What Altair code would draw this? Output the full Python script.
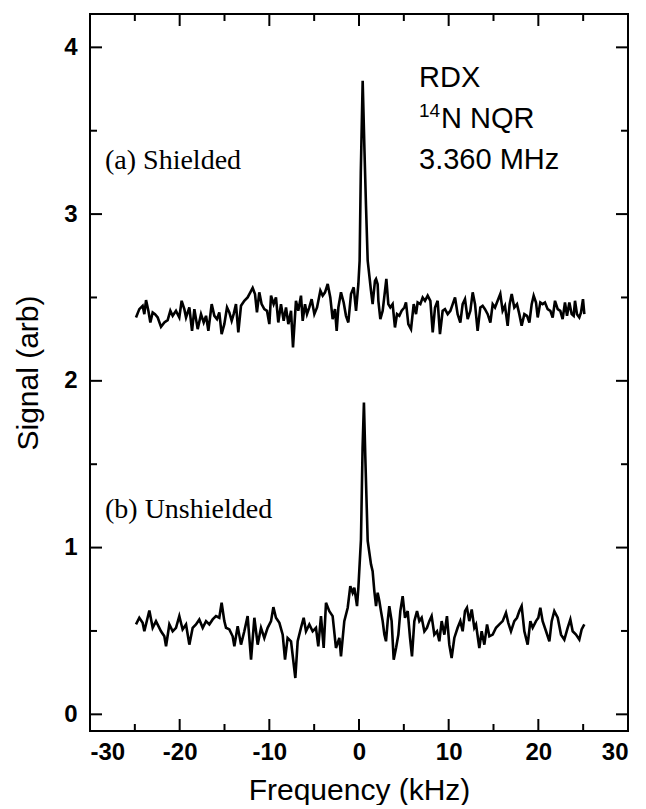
import altair as alt
import pandas as pd

# ---------------- data ----------------
upper_freq = [-24.87, -24.50, -24.13, -23.94, -23.75, -23.49, -23.27, -23.01, -22.75, -22.45,
              -22.08, -21.71, -21.34, -21.04, -20.78, -20.41, -20.04, -19.78, -19.48, -19.29,
              -18.92, -18.62, -18.36, -17.99, -17.62, -17.32, -17.06, -16.80, -16.43, -16.13,
              -15.84, -15.58, -15.32, -15.02, -14.72, -14.46, -14.20, -13.98, -13.72, -13.46,
              -13.16, -12.79, -12.42, -12.12, -11.86, -11.60, -11.38, -11.12, -10.86, -10.56,
              -10.26, -10.00, -9.81, -9.52, -9.26, -9.00, -8.70, -8.40, -8.14, -7.88,
              -7.58, -7.36, -7.03, -6.77, -6.47, -6.28, -6.02, -5.80, -5.54, -5.28,
              -4.98, -4.68, -4.31, -4.05, -3.79, -3.49, -3.20, -2.94, -2.68, -2.49,
              -2.30, -2.01, -1.71, -1.45, -1.19, -0.89, -0.59, -0.33, -0.07, 0.07,
              0.20, 0.41, 0.60, 0.78, 0.97, 1.34, 1.52, 1.78, 1.90, 2.08,
              2.16, 2.38, 2.64, 2.90, 3.05, 3.27, 3.49, 3.75, 4.01, 4.24,
              4.50, 4.76, 5.06, 5.24, 5.50, 5.80, 6.10, 6.36, 6.54, 6.84,
              7.10, 7.36, 7.66, 7.96, 8.22, 8.48, 8.77, 9.03, 9.33, 9.59,
              9.89, 10.19, 10.45, 10.71, 11.00, 11.30, 11.56, 11.82, 12.12, 12.42,
              12.68, 12.94, 13.23, 13.53, 13.79, 14.05, 14.35, 14.65, 14.91, 15.17,
              15.46, 15.76, 16.02, 16.28, 16.58, 16.80, 17.03, 17.32, 17.62, 17.88,
              18.14, 18.44, 18.74, 19.00, 19.26, 19.48, 19.74, 19.93, 20.22, 20.48,
              20.74, 21.04, 21.34, 21.60, 21.86, 22.16, 22.45, 22.71, 22.97, 23.20,
              23.46, 23.72, 23.94, 24.09, 24.31, 24.57, 24.76, 24.98, 25.13]
upper_signal = [2.380, 2.430, 2.450, 2.400, 2.484, 2.420, 2.350, 2.410, 2.400, 2.380,
                2.324, 2.350, 2.364, 2.420, 2.390, 2.420, 2.380, 2.480, 2.430, 2.380,
                2.440, 2.300, 2.430, 2.310, 2.400, 2.350, 2.390, 2.300, 2.460, 2.390,
                2.370, 2.410, 2.280, 2.340, 2.440, 2.410, 2.360, 2.400, 2.460, 2.290,
                2.450, 2.480, 2.500, 2.531, 2.557, 2.521, 2.410, 2.531, 2.460, 2.430,
                2.420, 2.340, 2.511, 2.460, 2.500, 2.350, 2.460, 2.360, 2.440, 2.340,
                2.420, 2.200, 2.480, 2.420, 2.511, 2.360, 2.460, 2.400, 2.440, 2.490,
                2.400, 2.440, 2.541, 2.511, 2.531, 2.581, 2.500, 2.370, 2.430, 2.300,
                2.440, 2.531, 2.470, 2.390, 2.350, 2.521, 2.561, 2.420, 2.581, 2.720,
                3.250, 3.800, 3.400, 3.050, 2.720, 2.540, 2.460, 2.600, 2.611, 2.580,
                2.480, 2.370, 2.420, 2.541, 2.611, 2.460, 2.440, 2.460, 2.320, 2.400,
                2.390, 2.420, 2.440, 2.470, 2.340, 2.310, 2.460, 2.400, 2.470, 2.460,
                2.500, 2.480, 2.511, 2.480, 2.290, 2.440, 2.480, 2.280, 2.420, 2.430,
                2.400, 2.420, 2.460, 2.500, 2.400, 2.350, 2.460, 2.490, 2.370, 2.420,
                2.531, 2.460, 2.300, 2.440, 2.450, 2.430, 2.400, 2.350, 2.460, 2.440,
                2.480, 2.521, 2.420, 2.450, 2.330, 2.460, 2.521, 2.440, 2.460, 2.400,
                2.330, 2.400, 2.390, 2.350, 2.460, 2.511, 2.470, 2.380, 2.470, 2.460,
                2.470, 2.430, 2.420, 2.380, 2.480, 2.430, 2.420, 2.370, 2.470, 2.390,
                2.470, 2.400, 2.390, 2.480, 2.400, 2.380, 2.410, 2.490, 2.400]

lower_freq = [-24.87, -24.50, -24.13, -23.94, -23.38, -23.01, -22.64, -22.08, -21.71, -21.52,
              -21.15, -20.78, -20.41, -20.04, -19.67, -19.29, -18.92, -18.55, -18.18, -17.81,
              -17.43, -17.06, -16.69, -16.32, -15.95, -15.58, -15.32, -15.02, -14.83, -14.46,
              -14.09, -13.90, -13.53, -13.16, -12.79, -12.42, -12.04, -11.67, -11.30, -10.93,
              -10.56, -10.19, -9.81, -9.55, -9.26, -8.88, -8.51, -8.25, -7.96, -7.58,
              -7.10, -6.84, -6.47, -6.17, -5.91, -5.54, -5.17, -4.80, -4.54, -4.24,
              -3.94, -3.68, -3.31, -2.94, -2.57, -2.19, -2.01, -1.64, -1.26, -0.97,
              -0.71, -0.52, -0.22, -0.07, 0.22, 0.40, 0.55, 0.70, 0.97, 1.34,
              1.52, 1.71, 1.90, 2.08, 2.27, 2.45, 2.64, 2.83, 3.01, 3.20,
              3.38, 3.64, 3.87, 4.13, 4.39, 4.61, 4.87, 5.13, 5.43, 5.69,
              5.91, 6.17, 6.47, 6.73, 6.99, 7.29, 7.58, 7.84, 8.10, 8.40,
              8.70, 8.96, 9.22, 9.52, 9.81, 10.07, 10.33, 10.63, 11.00, 11.30,
              11.56, 11.82, 12.04, 12.30, 12.57, 12.86, 13.05, 13.42, 13.68, 13.98,
              14.28, 14.54, 14.91, 15.28, 15.65, 16.02, 16.39, 16.65, 16.95, 17.32,
              17.62, 17.88, 18.14, 18.44, 18.81, 19.11, 19.37, 19.74, 20.00, 20.22,
              20.48, 20.86, 21.23, 21.49, 21.78, 22.16, 22.53, 22.90, 23.27, 23.57,
              23.83, 24.20, 24.57, 24.83, 25.13]
lower_signal = [0.539, 0.579, 0.549, 0.498, 0.623, 0.519, 0.559, 0.498, 0.468, 0.408,
                0.539, 0.498, 0.519, 0.589, 0.509, 0.539, 0.418, 0.519, 0.539, 0.569,
                0.519, 0.559, 0.539, 0.569, 0.589, 0.579, 0.669, 0.559, 0.519, 0.509,
                0.468, 0.408, 0.529, 0.418, 0.498, 0.589, 0.328, 0.579, 0.418, 0.519,
                0.458, 0.519, 0.559, 0.643, 0.579, 0.549, 0.478, 0.328, 0.458, 0.438,
                0.218, 0.438, 0.519, 0.579, 0.498, 0.539, 0.498, 0.519, 0.408, 0.589,
                0.398, 0.669, 0.619, 0.589, 0.398, 0.458, 0.348, 0.559, 0.639, 0.769,
                0.729, 0.759, 0.649, 0.759, 1.050, 1.600, 1.870, 1.550, 1.040, 0.899,
                0.859, 0.739, 0.649, 0.729, 0.679, 0.619, 0.559, 0.478, 0.438, 0.559,
                0.649, 0.559, 0.328, 0.398, 0.478, 0.619, 0.709, 0.579, 0.619, 0.458,
                0.348, 0.559, 0.619, 0.559, 0.579, 0.498, 0.519, 0.559, 0.589, 0.478,
                0.498, 0.438, 0.559, 0.478, 0.589, 0.418, 0.338, 0.458, 0.519, 0.559,
                0.498, 0.619, 0.639, 0.559, 0.629, 0.519, 0.539, 0.398, 0.498, 0.418,
                0.539, 0.468, 0.478, 0.519, 0.539, 0.559, 0.609, 0.549, 0.498, 0.559,
                0.579, 0.619, 0.649, 0.498, 0.418, 0.559, 0.519, 0.559, 0.579, 0.639,
                0.559, 0.498, 0.438, 0.559, 0.619, 0.579, 0.478, 0.448, 0.519, 0.569,
                0.498, 0.478, 0.448, 0.509, 0.539]

x_major = [-30, -20, -10, 0, 10, 20, 30]
x_minor = [-25, -15, -5, 5, 15, 25]
y_major = [0, 1, 2, 3, 4]
y_minor = [0.5, 1.5, 2.5, 3.5]

# ---------------- chart ----------------
W, H = 538, 717
SANS = "Liberation Sans"
SERIF = "Liberation Serif"

xs = alt.Scale(domain=[-30, 30], nice=False, zero=False)
ys = alt.Scale(domain=[-0.1, 4.2], nice=False, zero=False)

df_u = pd.DataFrame({"f": upper_freq, "s": upper_signal})
df_l = pd.DataFrame({"f": lower_freq, "s": lower_signal})

x_axis = alt.Axis(values=x_major, labelExpr="'' + datum.value", labelFont=SANS,
                  labelFontSize=24, labelFontWeight="bold", labelColor="black",
                  ticks=False, tickSize=0, domain=False, grid=False, labelPadding=9,
                  title="Frequency (kHz)", titleFont=SANS, titleFontSize=30,
                  titleFontWeight="normal", titleColor="black", titlePadding=11)
y_axis = alt.Axis(values=y_major, labelExpr="'' + datum.value", labelFont=SANS,
                  labelFontSize=24, labelFontWeight="bold", labelColor="black",
                  ticks=False, tickSize=0, domain=False, grid=False, labelPadding=13,
                  title="Signal (arb)", titleFont=SANS, titleFontSize=30,
                  titleFontWeight="normal", titleColor="black", titlePadding=20)

upper = alt.Chart(df_u).mark_line(color="black", strokeWidth=2.6).encode(
    x=alt.X("f:Q", scale=xs, axis=x_axis),
    y=alt.Y("s:Q", scale=ys, axis=y_axis),
)
lower = alt.Chart(df_l).mark_line(color="black", strokeWidth=2.6).encode(
    x=alt.X("f:Q", scale=xs),
    y=alt.Y("s:Q", scale=ys),
)

dxM = pd.DataFrame({"v": x_major})
dxm = pd.DataFrame({"v": x_minor})
dyM = pd.DataFrame({"v": y_major})
dym = pd.DataFrame({"v": y_minor})

def xticks(d, L):
    b = alt.Chart(d).mark_rule(color="black", strokeWidth=2).encode(
        x=alt.X("v:Q", scale=xs), y=alt.value(H), y2=alt.value(H - L))
    t = alt.Chart(d).mark_rule(color="black", strokeWidth=2).encode(
        x=alt.X("v:Q", scale=xs), y=alt.value(0), y2=alt.value(L))
    return [b, t]

def yticks(d, L):
    l = alt.Chart(d).mark_rule(color="black", strokeWidth=2).encode(
        y=alt.Y("v:Q", scale=ys), x=alt.value(0), x2=alt.value(L))
    r = alt.Chart(d).mark_rule(color="black", strokeWidth=2).encode(
        y=alt.Y("v:Q", scale=ys), x=alt.value(W), x2=alt.value(W - L))
    return [l, r]

ticks = xticks(dxM, 12) + xticks(dxm, 7) + yticks(dyM, 12) + yticks(dym, 7)

def label(txt, x, y, size, font=SANS):
    return alt.Chart(pd.DataFrame({"t": [txt]})).mark_text(
        align="left", baseline="alphabetic", font=font, fontSize=size, color="black"
    ).encode(text="t:N", x=alt.value(x), y=alt.value(y))

texts = [
    label("RDX", 329, 73, 29),
    label("14", 329, 103, 19),
    label("N NQR", 351, 114, 29),
    label("3.360 MHz", 329, 155, 29),
    label("(a) Shielded", 15, 155, 28, SERIF),
    label("(b) Unshielded", 15, 504, 28, SERIF),
]

chart = alt.layer(upper, lower, *ticks, *texts).properties(
    width=W, height=H, padding={"left": 5, "top": 5, "right": 5, "bottom": 0}
).configure_view(stroke="black", strokeWidth=2)

chart.save("out.html", embed_options={"renderer": "svg", "actions": False})
